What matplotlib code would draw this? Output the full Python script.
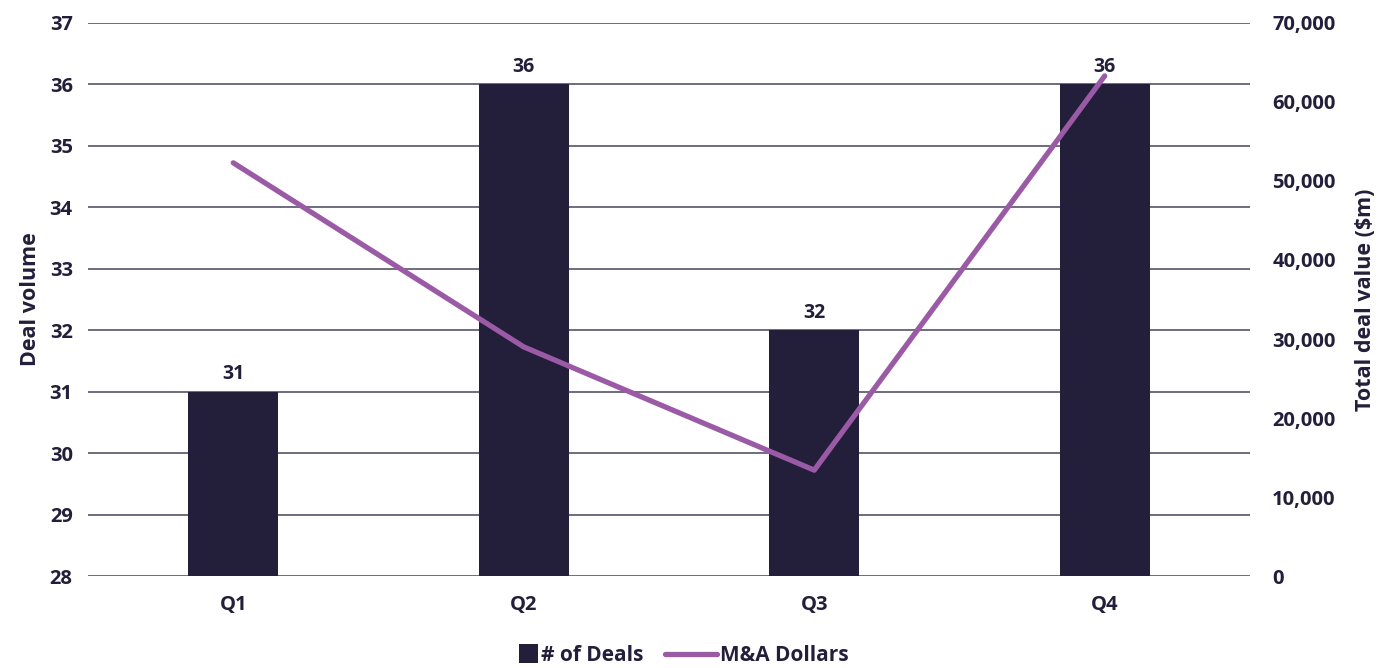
import numpy as np
import matplotlib.pyplot as plt
from matplotlib.lines import Line2D
from matplotlib.patches import Rectangle
from matplotlib.legend_handler import HandlerBase

plt.rcParams['font.family'] = ['Open Sans', 'DejaVu Sans']
plt.rcParams['font.weight'] = 'bold'
plt.rcParams['axes.labelweight'] = 'bold'

quarters = ['Q1', 'Q2', 'Q3', 'Q4']
deals = [31, 36, 32, 36]
dollars = [52300, 29000, 13400, 63300]

bar_color = '#231f3a'
line_color = '#9b5aa5'
text_color = '#231f3a'
grid_color = '#55536a'


class SquareHandler(HandlerBase):
    # square swatch pushed to the right edge of the handle box
    def create_artists(self, legend, orig_handle, xdescent, ydescent,
                       width, height, fontsize, trans):
        s = fontsize * 0.9
        r = Rectangle((width - xdescent - s, -ydescent + (height - s) / 2), s, s,
                      facecolor=bar_color, edgecolor='none', transform=trans)
        return [r]


fig = plt.figure(figsize=(13.93, 6.68), dpi=100)
ax = fig.add_axes([0.0632, 0.1377, 0.8341, 0.8279])
ax2 = ax.twinx()

x = np.arange(len(quarters))
ax.bar(x, deals, width=0.31, color=bar_color, zorder=2)
for xi, v in zip(x, deals):
    ax.text(xi, v + 0.12, str(v), ha='center', va='bottom', fontsize=14,
            color=text_color)

ax.set_ylim(28, 37)
ax.set_yticks(range(28, 38))
ax.set_xlim(-0.5, len(quarters) - 0.5)
ax.set_xticks(x)
ax.set_xticklabels(quarters)
ax.yaxis.grid(True, color=grid_color, linewidth=1.2, zorder=0)
ax.set_axisbelow(True)

ax2.plot(x, dollars, color=line_color, linewidth=3.8, solid_capstyle='round', zorder=3)
ax2.set_ylim(0, 70000)
ax2.set_yticks(range(0, 70001, 10000))
ax2.set_yticklabels([f'{v:,}' for v in range(0, 70001, 10000)])

for a in (ax, ax2):
    for s in a.spines.values():
        s.set_visible(False)
    a.tick_params(length=0, labelsize=14.5, colors=text_color)
ax.tick_params(axis='y', pad=11)
ax.tick_params(axis='x', pad=14)
ax2.tick_params(axis='y', pad=16)

ax.set_ylabel('Deal volume', fontsize=15.5, color=text_color, labelpad=6)
ax2.set_ylabel('Total deal value ($m)', fontsize=15.5, color=text_color, labelpad=14)

square = Rectangle((0, 0), 1, 1)
dollar_line = Line2D([], [], color=line_color, linewidth=3.8, solid_capstyle='round')
fig.legend([square, dollar_line], ['# of Deals', 'M&A Dollars'], loc='lower center',
           bbox_to_anchor=(0.479, -0.025), ncol=2, frameon=False,
           handlelength=2.5, columnspacing=1.0, handletextpad=0.15,
           labelcolor=text_color, prop={'weight': 'bold', 'size': 15},
           handler_map={square: SquareHandler()})

fig.savefig('out.png', dpi=100)
